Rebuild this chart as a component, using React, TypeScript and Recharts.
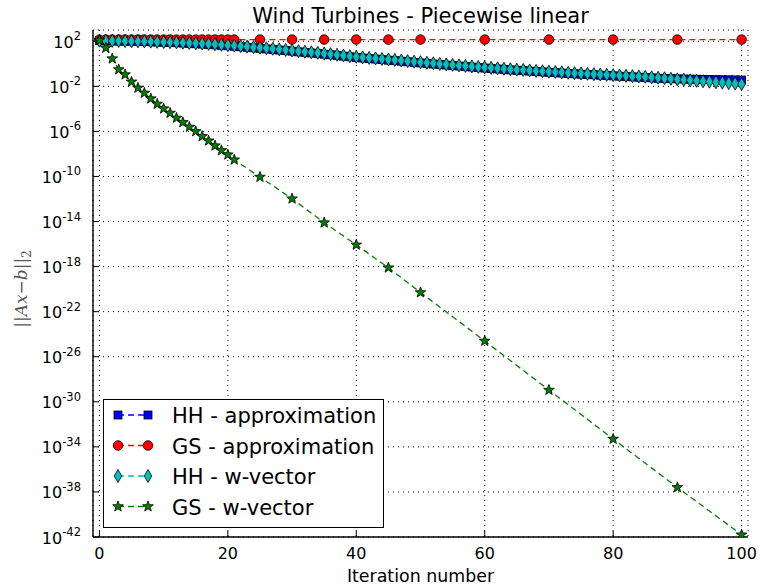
import React from 'react';
import { LineChart, Line, XAxis, YAxis, CartesianGrid, Legend, Customized } from 'recharts';

// Residual norms per iteration (Householder, every iteration 0..100)
const hhApprox = [
  112.2, 109.6, 107.2, 104.7, 102.3, 100, 95.5, 93.3, 89.1, 85.1,
  81.3, 77.6, 74.1, 69.2, 64.6, 60.3, 56.2, 52.5, 47.9, 43.6,
  39.8, 36.3, 32.4, 29.5, 26.3, 23.4, 20.9, 18.6, 16.6, 14.8,
  13.2, 11.5, 10.2, 9.12, 8.13, 7.08, 6.31, 5.5, 4.79, 4.17,
  3.63, 3.24, 2.88, 2.63, 2.34, 2.09, 1.91, 1.7, 1.51, 1.35,
  1.2, 1.07, 0.955, 0.851, 0.776, 0.692, 0.631, 0.562, 0.513, 0.457,
  0.417, 0.38, 0.347, 0.316, 0.288, 0.263, 0.245, 0.224, 0.204, 0.191,
  0.174, 0.162, 0.151, 0.138, 0.129, 0.12, 0.112, 0.105, 0.0977, 0.0912,
  0.0851, 0.0794, 0.0741, 0.0692, 0.0646, 0.0603, 0.0562, 0.0525, 0.0501, 0.0479,
  0.0457, 0.0447, 0.0437, 0.0427, 0.0417, 0.0407, 0.0398, 0.0389, 0.038, 0.0372,
  0.0363,
];

const hhWVector = [
  112.2, 110.0, 108.1, 106.2, 104.4, 102.6, 98.6, 96.9, 93.1, 89.4,
  86.0, 82.6, 79.4, 74.8, 70.5, 66.4, 62.4, 58.6, 53.7, 49.2,
  45.1, 41.3, 37.0, 33.7, 30.1, 26.8, 24.0, 21.4, 19.1, 17.0,
  15.2, 13.2, 11.7, 10.5, 9.33, 8.13, 7.24, 6.31, 5.5, 4.79,
  4.17, 3.72, 3.31, 3.02, 2.69, 2.4, 2.19, 1.95, 1.73, 1.55,
  1.38, 1.23, 1.1, 0.977, 0.891, 0.794, 0.724, 0.646, 0.589, 0.525,
  0.479, 0.437, 0.398, 0.363, 0.331, 0.302, 0.282, 0.257, 0.234, 0.219,
  0.2, 0.186, 0.174, 0.158, 0.148, 0.138, 0.129, 0.12, 0.112, 0.105,
  0.0977, 0.0912, 0.0851, 0.0794, 0.0741, 0.0692, 0.0631, 0.0575, 0.0525, 0.0468,
  0.0417, 0.038, 0.0339, 0.0309, 0.0282, 0.0257, 0.0234, 0.0214, 0.0195, 0.0174,
  0.0158,
];

// Gram-Schmidt runs were sampled at these iterations
const gsIters = [
  0, 1, 2, 3, 4, 5, 6, 7, 8, 9, 10, 11, 12, 13, 14, 15, 16, 17, 18, 19, 20, 21,
  25, 30, 35, 40, 45, 50, 60, 70, 80, 90, 100,
];

const gsApprox = [
  138, 140, 141, 141, 142, 141, 141, 142, 141, 141, 141, 142, 141, 141, 141, 141,
  141, 141, 141, 141, 141, 141, 141, 141, 141, 141, 141, 141, 141, 141, 141, 141, 141,
];

const gsWVector = [
  123, 25.7, 2.88, 0.309, 0.11, 2.51e-2, 7.24e-3, 2.57e-3, 8.13e-4, 2.69e-4,
  1.05e-4, 4.27e-5, 1.55e-5, 6.31e-6, 2.45e-6, 1.0e-6, 3.63e-7, 1.48e-7, 5.37e-8, 2.04e-8,
  8.51e-9, 3.02e-9, 8.91e-11, 1.05e-12, 7.94e-15, 8.51e-17, 7.94e-19, 5.01e-21, 2.51e-25, 1.1e-29,
  5.01e-34, 2.51e-38, 1.58e-42,
];

const xTicks = [0, 20, 40, 60, 80, 100];
const yTicks = [1e2, 1e-2, 1e-6, 1e-10, 1e-14, 1e-18, 1e-22, 1e-26, 1e-30, 1e-34, 1e-38, 1e-42];

const hhApproxData = hhApprox.map((y, i) => ({ x: i, y }));
const hhWData = hhWVector.map((y, i) => ({ x: i, y }));
const gsApproxData = gsIters.map((x, i) => ({ x, y: gsApprox[i] }));
const gsWData = gsIters.map((x, i) => ({ x, y: gsWVector[i] }));

const FONT = '"DejaVu Sans", sans-serif';
const BLUE = '#0000ff';
const RED = '#ff0000';
const CYAN = '#00bfbf';
const GREEN = '#008000';

type MP = { cx: number; cy: number };

const Square = ({ cx, cy }: MP) => (
  <rect x={cx - 4} y={cy - 4} width={8} height={8} fill={BLUE} stroke="#000" strokeWidth={0.8} />
);
const Dot = ({ cx, cy }: MP) => (
  <circle cx={cx} cy={cy} r={4.8} fill={RED} stroke="#000" strokeWidth={0.8} />
);
const Diamond = ({ cx, cy }: MP) => (
  <polygon
    points={`${cx},${cy - 6.5} ${cx + 3.8},${cy} ${cx},${cy + 6.5} ${cx - 3.8},${cy}`}
    fill={CYAN}
    stroke="#000"
    strokeWidth={0.8}
  />
);
const Star = ({ cx, cy }: MP) => {
  const pts: string[] = [];
  for (let k = 0; k < 10; k++) {
    const r = k % 2 === 0 ? 5.6 : 2.3;
    const a = -Math.PI / 2 + (k * Math.PI) / 5;
    pts.push(`${cx + r * Math.cos(a)},${cy + r * Math.sin(a)}`);
  }
  return <polygon points={pts.join(' ')} fill={GREEN} stroke="#000" strokeWidth={0.8} />;
};

const markerDot = (Comp: React.FC<MP>) => (p: any) =>
  p.cx == null || p.cy == null ? <g key={`e-${p.index}`} /> : <Comp key={`m-${p.index}`} cx={p.cx} cy={p.cy} />;

const XTick = (props: any) => {
  const { x, y, payload } = props;
  return (
    <text x={x} y={y + 12} textAnchor="middle" fontFamily={FONT} fontSize={16} fill="#000">
      {payload.value}
    </text>
  );
};

const YTick = (props: any) => {
  const { x, y, payload } = props;
  const e = Math.round(Math.log10(payload.value));
  return (
    <text x={x} y={y + 6.5} textAnchor="end" fontFamily={FONT} fontSize={16} fill="#000">
      10
      <tspan dy={-7.5} fontSize={11.5}>
        {e}
      </tspan>
    </text>
  );
};

const Annotations = () => (
  <g>
    <text x={420.5} y={23} textAnchor="middle" fontFamily={FONT} fontSize={21} fill="#000">
      Wind Turbines - Piecewise linear
    </text>
    <text x={420.5} y={582} textAnchor="middle" fontFamily={FONT} fontSize={17.4} fill="#000">
      Iteration number
    </text>
    <text
      transform="translate(27,289) rotate(-90)"
      textAnchor="middle"
      fontFamily='"DejaVu Serif", serif'
      fontSize={17}
      fill="#555"
    >
      ||<tspan fontStyle="italic">Ax</tspan>−<tspan fontStyle="italic">b</tspan>||
      <tspan dy={4} fontSize={12}>2</tspan>
    </text>
  </g>
);

const legendRows = [
  { name: 'HH - approximation', color: BLUE, M: Square },
  { name: 'GS - approximation', color: RED, M: Dot },
  { name: 'HH - w-vector', color: CYAN, M: Diamond },
  { name: 'GS - w-vector', color: GREEN, M: Star },
];

const LegendBox = () => (
  <svg width={281} height={129} style={{ display: 'block' }}>
    <rect x={0.5} y={0.5} width={280} height={128} fill="#fff" stroke="#000" strokeWidth={1} />
    {legendRows.map((r, i) => {
      const cy = 16 + i * 30.5;
      const M = r.M;
      return (
        <g key={r.name}>
          <line x1={15} y1={cy} x2={45} y2={cy} stroke={r.color} strokeWidth={1.3} strokeDasharray="6 4" />
          <M cx={15} cy={cy} />
          <M cx={45} cy={cy} />
          <text x={69} y={cy + 8} fontFamily={FONT} fontSize={21} fill="#000">
            {r.name}
          </text>
        </g>
      );
    })}
  </svg>
);

export default function App() {
  return (
    <div style={{ position: 'absolute', left: 0, top: 0, width: 760, height: 588, background: '#fff' }}>
      <LineChart width={760} height={588} margin={{ top: 30, right: 12, bottom: 0, left: 0 }}>
        <CartesianGrid stroke="#000" strokeDasharray="1 4" strokeWidth={1} />
        <XAxis
          dataKey="x"
          type="number"
          domain={[-1, 101]}
          ticks={xTicks}
          allowDataOverflow
          height={51}
          tickSize={-6}
          tickMargin={16}
          tick={<XTick />}
          axisLine={{ stroke: '#000', strokeWidth: 1.4 }}
          tickLine={{ stroke: '#000' }}
        />
        <XAxis
          xAxisId="top"
          orientation="top"
          type="number"
          domain={[-1, 101]}
          ticks={xTicks}
          allowDataOverflow
          height={0}
          tickSize={-6}
          tick={false}
          axisLine={{ stroke: '#000', strokeWidth: 1.4 }}
          tickLine={{ stroke: '#000' }}
        />
        <YAxis
          type="number"
          scale="log"
          domain={[1e-42, 1e3]}
          ticks={yTicks}
          allowDataOverflow
          width={93}
          tickSize={-6}
          tickMargin={18}
          tick={<YTick />}
          axisLine={{ stroke: '#000', strokeWidth: 1.4 }}
          tickLine={{ stroke: '#000' }}
        />
        <YAxis
          yAxisId="right"
          orientation="right"
          type="number"
          scale="log"
          domain={[1e-42, 1e3]}
          ticks={yTicks}
          allowDataOverflow
          width={0}
          tickSize={-6}
          tick={false}
          axisLine={{ stroke: '#000', strokeWidth: 1.4 }}
          tickLine={{ stroke: '#000' }}
        />
        <Line
          data={hhApproxData}
          dataKey="y"
          name="HH - approximation"
          type="linear"
          stroke={BLUE}
          strokeWidth={1.3}
          strokeDasharray="6 4"
          dot={markerDot(Square)}
          activeDot={false}
          isAnimationActive={false}
        />
        <Line
          data={gsApproxData}
          dataKey="y"
          name="GS - approximation"
          type="linear"
          stroke={RED}
          strokeWidth={1.3}
          strokeDasharray="6 4"
          dot={markerDot(Dot)}
          activeDot={false}
          isAnimationActive={false}
        />
        <Line
          data={hhWData}
          dataKey="y"
          name="HH - w-vector"
          type="linear"
          stroke={CYAN}
          strokeWidth={1.3}
          strokeDasharray="6 4"
          dot={markerDot(Diamond)}
          activeDot={false}
          isAnimationActive={false}
        />
        <Line
          data={gsWData}
          dataKey="y"
          name="GS - w-vector"
          type="linear"
          stroke={GREEN}
          strokeWidth={1.3}
          strokeDasharray="6 4"
          dot={markerDot(Star)}
          activeDot={false}
          isAnimationActive={false}
        />
        <Legend
          layout="vertical"
          align="center"
          verticalAlign="middle"
          wrapperStyle={{ left: 103, top: 399, width: 281, height: 129 }}
          content={() => <LegendBox />}
        />
        <Customized component={<Annotations />} />
      </LineChart>
    </div>
  );
}
